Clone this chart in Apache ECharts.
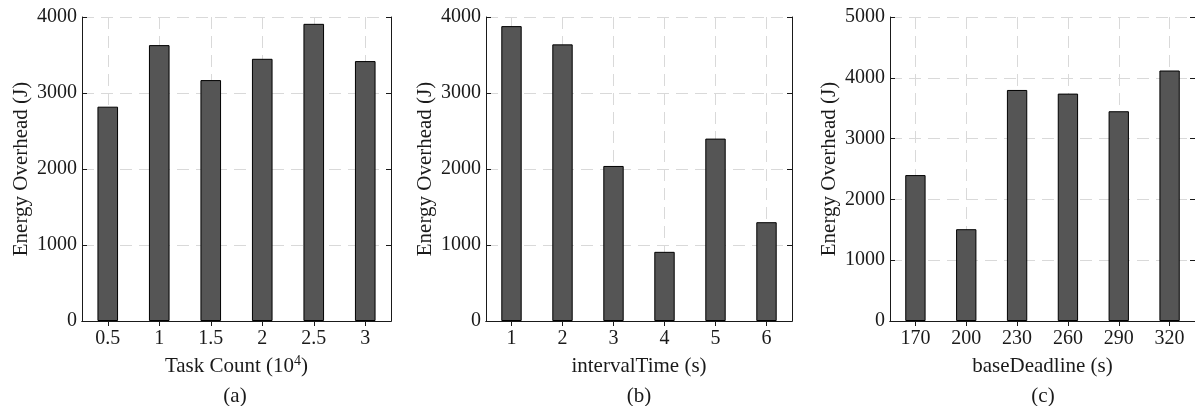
<!DOCTYPE html>
<html style="height: 100%;width:100%">
<head>
<meta charset="utf-8">
</head>
<body style="height: 100%; width:100%; margin:0">
<div id="chart-panel" style="height: 406px;width: 1195px"></div>
<script type="text/javascript" src="https://cdn.jsdelivr.net/npm/echarts@6/dist/echarts.min.js"></script>
<script type="text/javascript">
// data
var taskCount = ['0.5', '1', '1.5', '2', '2.5', '3'];
var energyA = [2820, 3630, 3170, 3450, 3910, 3420];

var intervalTime = ['1', '2', '3', '4', '5', '6'];
var energyB = [3880, 3640, 2040, 910, 2400, 1300];

var baseDeadline = ['170', '200', '230', '260', '290', '320'];
var energyC = [2400, 1510, 3800, 3740, 3450, 4120];

var yMaxA = 4000, yMaxB = 4000, yMaxC = 5000;

var myChart = echarts.init(document.getElementById('chart-panel'));
var font = 'Liberation Serif';
var txt = '#1a1a1a';
var dash = { color: '#d9d9d9', type: [12, 7], width: 1 };

var panels = [
  { left: 82, width: 309, cats: taskCount, vals: energyA, max: yMaxA, xname: 'Task Count (10{sup|4})', tag: '(a)' },
  { left: 486, width: 306, cats: intervalTime, vals: energyB, max: yMaxB, xname: 'intervalTime (s)', tag: '(b)' },
  { left: 890, width: 308, cats: baseDeadline, vals: energyC, max: yMaxC, xname: 'baseDeadline (s)', tag: '(c)' }
];

var grid = [], xAxis = [], yAxis = [], series = [], graphic = [];
panels.forEach(function (p, i) {
  grid.push({ left: p.left, width: p.width, top: 17, bottom: 85 });
  // bottom axis with labels
  xAxis.push({
    type: 'category', gridIndex: i, position: 'bottom', data: p.cats,
    axisLine: { lineStyle: { color: txt, width: 1 } },
    axisTick: { show: true, inside: true, length: 5, alignWithLabel: true, lineStyle: { color: txt } },
    axisLabel: { color: txt, fontFamily: font, fontSize: 20, margin: 8 },
    name: p.xname, nameLocation: 'middle', nameGap: 30,
    nameTextStyle: {
      color: txt, fontFamily: font, fontSize: 21, lineHeight: 26,
      rich: { sup: { fontFamily: font, fontSize: 14, color: txt, verticalAlign: 'top', lineHeight: 14 } }
    },
    splitLine: { show: false }
  });
  // top axis: box edge, ticks and vertical grid at the bars
  xAxis.push({
    type: 'category', gridIndex: i, position: 'top', data: p.cats,
    axisLine: { lineStyle: { color: txt, width: 1 } },
    axisTick: { show: true, inside: true, length: 5, alignWithLabel: true, lineStyle: { color: txt } },
    axisLabel: { show: false },
    splitLine: { show: true, alignWithLabel: true, lineStyle: dash }
  });
  yAxis.push({
    type: 'value', gridIndex: i, position: 'left', min: 0, max: p.max, interval: 1000,
    axisLine: { show: true, lineStyle: { color: txt, width: 1 } },
    axisTick: { show: true, inside: true, length: 5, lineStyle: { color: txt } },
    axisLabel: { color: txt, fontFamily: font, fontSize: 20, margin: 5, formatter: function (v) { return String(v); } },
    name: 'Energy Overhead (J)', nameLocation: 'middle', nameGap: 50,
    nameTextStyle: { color: txt, fontFamily: font, fontSize: 21 },
    splitLine: { show: true, lineStyle: dash }
  });
  yAxis.push({
    type: 'value', gridIndex: i, position: 'right', min: 0, max: p.max, interval: 1000,
    axisLine: { show: true, lineStyle: { color: txt, width: 1 } },
    axisTick: { show: true, inside: true, length: 5, lineStyle: { color: txt } },
    axisLabel: { show: false },
    splitLine: { show: false }
  });
  series.push({
    type: 'bar', xAxisIndex: i * 2, yAxisIndex: i * 2, data: p.vals,
    barWidth: '40%',
    itemStyle: { color: '#555555', borderColor: '#000000', borderWidth: 1 },
    z: 3
  });
  graphic.push({
    type: 'text', x: p.left + Math.min(p.width, 306) / 2, y: 396,
    style: { text: p.tag, font: '21px "' + font + '"', fill: txt, textAlign: 'center', textVerticalAlign: 'middle' }
  });
});

myChart.setOption({
  backgroundColor: '#ffffff',
  animation: false,
  grid: grid,
  xAxis: xAxis,
  yAxis: yAxis,
  series: series,
  graphic: graphic
});
</script>
</body>
</html>
